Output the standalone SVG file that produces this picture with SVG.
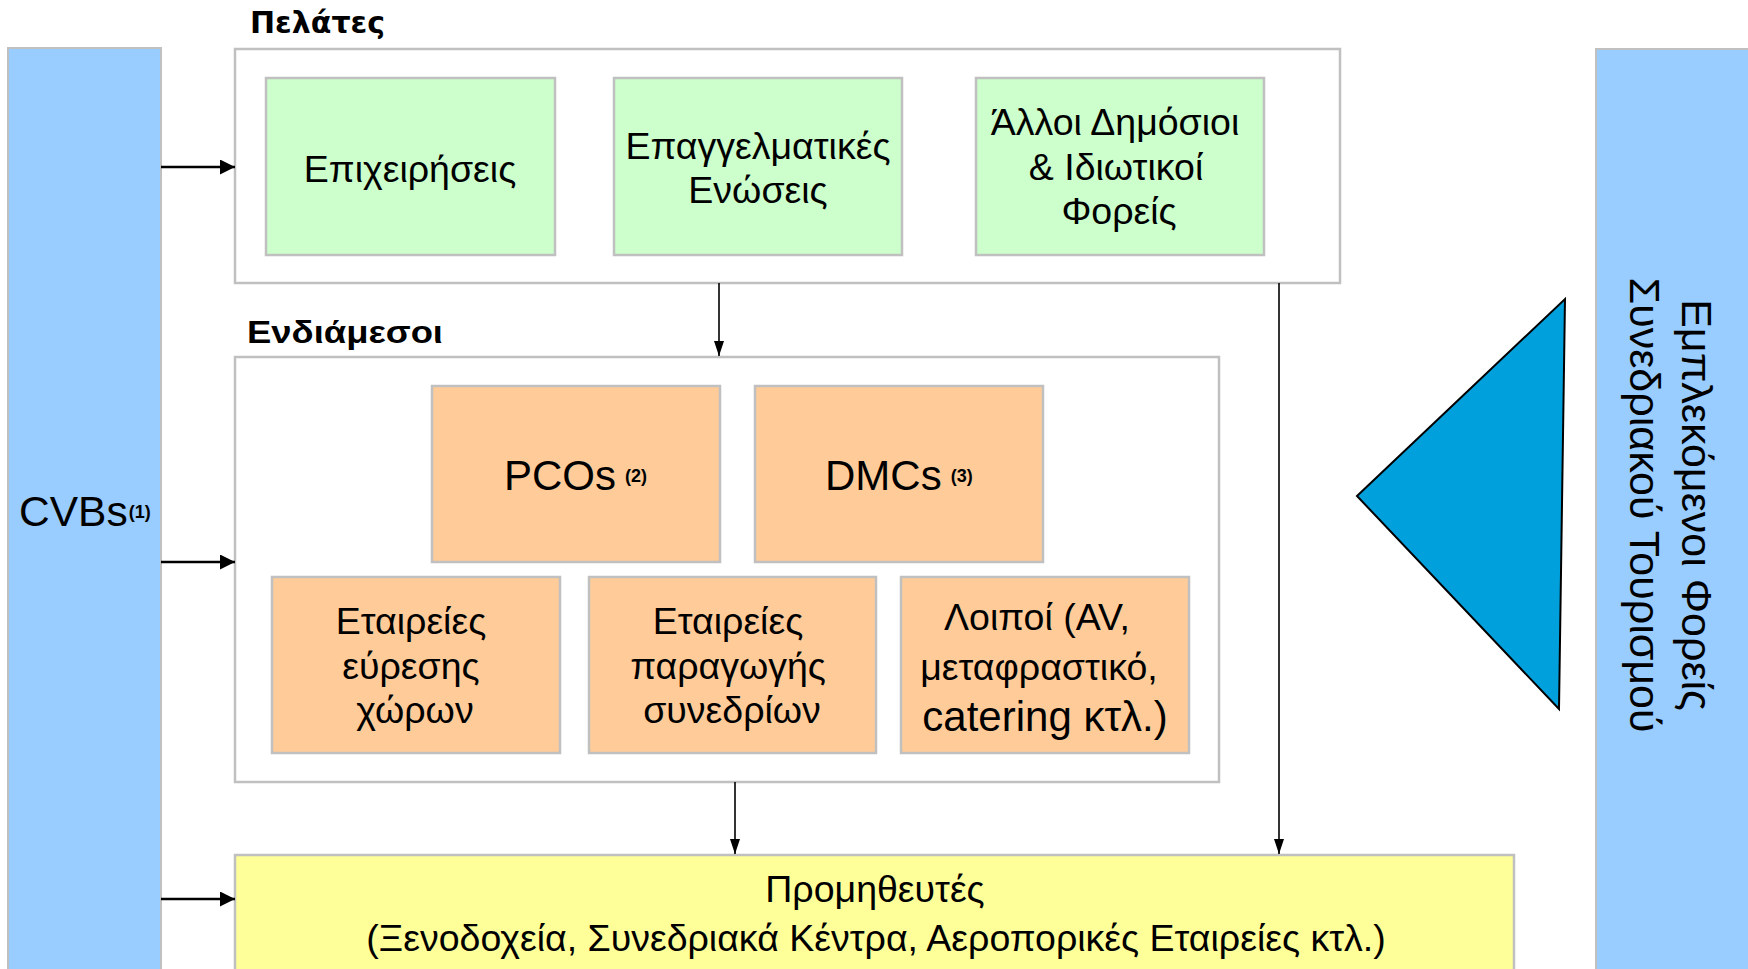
<svg xmlns="http://www.w3.org/2000/svg" width="1748" height="969" viewBox="0 0 1748 969">
<defs>
<style>
.bar{fill:#99CCFF;stroke:#C0C0C0;stroke-width:2}
.cont{fill:#FFFFFF;stroke:#C0C0C0;stroke-width:2.5}
.green{fill:#CCFFCC;stroke:#C0C0C0;stroke-width:2.5}
.orange{fill:#FFCC99;stroke:#C0C0C0;stroke-width:2.5}
.yellow{fill:#FFFF99;stroke:#C0C0C0;stroke-width:2.5}
text{font-family:"Liberation Sans",Arial,sans-serif;fill:#000}
.t{font-size:37.5px;text-anchor:middle}
.big{font-size:42px;text-anchor:middle}
.sup{font-size:18px;font-weight:bold}
.title1{font-family:"DejaVu Sans","Liberation Sans",sans-serif;font-size:30px;font-weight:bold}
.title2{font-family:"Liberation Sans",Arial,sans-serif;font-size:31px;font-weight:bold}
.h{stroke:#000;stroke-width:2.5;fill:none}
.v{stroke:#000;stroke-width:1.6;fill:none}
</style>
<marker id="ah" markerUnits="userSpaceOnUse" markerWidth="16" markerHeight="16" refX="15" refY="7.5" orient="auto">
<path d="M0,0 L15,7.5 L0,15 z" fill="#000"/>
</marker>
<marker id="av" markerUnits="userSpaceOnUse" markerWidth="16" markerHeight="12" refX="15" refY="5" orient="auto">
<path d="M0,0 L15,5 L0,10 z" fill="#000"/>
</marker>
</defs>
<rect width="1748" height="969" fill="#FFFFFF"/>

<g id="cvbs">
<rect class="bar" x="8" y="48" width="153" height="930"/>
<text x="19" y="526" style="font-size:42.5px">CVBs<tspan class="sup" dx="1" dy="-8">(1)</tspan></text>
</g>

<g id="emplekomenoi">
<rect class="bar" x="1596" y="49" width="160" height="930"/>
<text class="t" style="font-size:43px" transform="translate(1682,505) rotate(90)">Εμπλεκόμενοι Φορείς</text>
<text class="t" style="font-size:43px" transform="translate(1630,505) rotate(90)">Συνεδριακού Τουρισμού</text>
</g>

<g id="triangle">
<polygon points="1357,496 1565,299 1559,709" fill="#00A0DC" stroke="#000" stroke-width="2"/>
</g>

<g id="pelates">
<rect class="cont" x="235" y="49" width="1105" height="234"/>
<text class="title1" x="250" y="33">Πελάτες</text>
</g>
<g id="epicheiriseis">
<rect class="green" x="266" y="78" width="289" height="177"/>
<text class="t" x="410" y="182">Επιχειρήσεις</text>
</g>
<g id="enoseis">
<rect class="green" x="614" y="78" width="288" height="177"/>
<text class="t" x="758" y="159">Επαγγελματικές</text>
<text class="t" x="758" y="203">Ενώσεις</text>
</g>
<g id="alloi">
<rect class="green" x="976" y="78" width="288" height="177"/>
<text class="t" x="1115" y="135">Άλλοι Δημόσιοι</text>
<text class="t" x="1116" y="180">&amp; Ιδιωτικοί</text>
<text class="t" x="1119" y="224">Φορείς</text>
</g>

<g id="endiamesoi">
<rect class="cont" x="235" y="357" width="984" height="425"/>
<text class="title2" x="247" y="343" textLength="196" lengthAdjust="spacingAndGlyphs">Ενδιάμεσοι</text>
</g>
<g id="pcos">
<rect class="orange" x="432" y="386" width="288" height="176"/>
<text x="504" y="490" style="font-size:42px">PCOs<tspan class="sup" dx="9" dy="-8">(2)</tspan></text>
</g>
<g id="dmcs">
<rect class="orange" x="755" y="386" width="288" height="176"/>
<text x="825" y="490" style="font-size:42px">DMCs<tspan class="sup" dx="9" dy="-8">(3)</tspan></text>
</g>
<g id="eyresi">
<rect class="orange" x="272" y="577" width="288" height="176"/>
<text class="t" x="411" y="634">Εταιρείες</text>
<text class="t" x="411" y="679">εύρεσης</text>
<text class="t" x="415" y="723">χώρων</text>
</g>
<g id="paragogi">
<rect class="orange" x="589" y="577" width="287" height="176"/>
<text class="t" x="728" y="634">Εταιρείες</text>
<text class="t" x="728" y="679">παραγωγής</text>
<text class="t" x="732" y="723">συνεδρίων</text>
</g>
<g id="loipoi">
<rect class="orange" x="901" y="577" width="288" height="176"/>
<text class="t" x="1037" y="630">Λοιποί (AV,</text>
<text class="t" x="1039" y="680">μεταφραστικό,</text>
<text class="big" x="1045" y="731">catering κτλ.)</text>
</g>

<g id="promitheutes">
<rect class="yellow" x="235" y="855" width="1279" height="130"/>
<text class="t" x="875" y="902">Προμηθευτές</text>
<text class="t" x="876" y="951">(Ξενοδοχεία, Συνεδριακά Κέντρα, Αεροπορικές Εταιρείες κτλ.)</text>
</g>

<g id="connectors">
<line class="h" x1="161" y1="167" x2="235" y2="167" marker-end="url(#ah)"/>
<line class="h" x1="161" y1="562" x2="235" y2="562" marker-end="url(#ah)"/>
<line class="h" x1="161" y1="899" x2="235" y2="899" marker-end="url(#ah)"/>
<line class="v" x1="719" y1="283" x2="719" y2="356" marker-end="url(#av)"/>
<line class="v" x1="735" y1="782" x2="735" y2="854" marker-end="url(#av)"/>
<line class="v" x1="1279" y1="283" x2="1279" y2="854" marker-end="url(#av)"/>
</g>
</svg>
